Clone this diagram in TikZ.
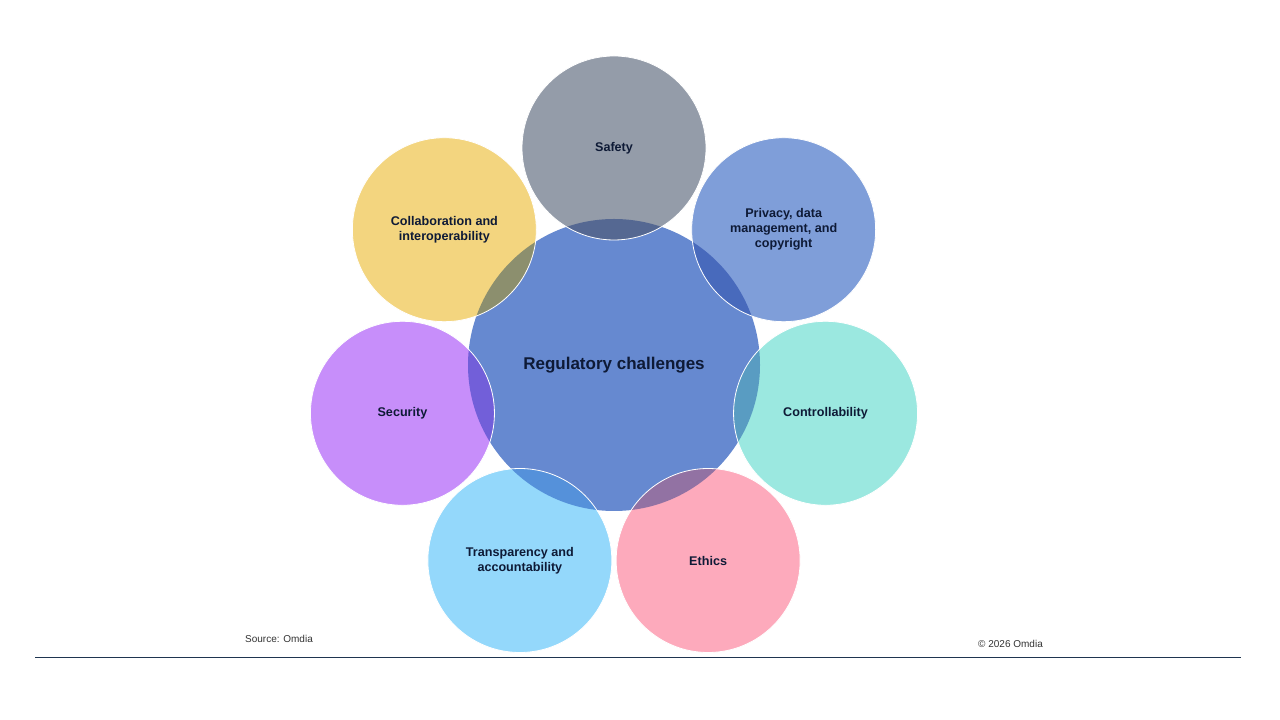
\documentclass[tikz,border=0pt]{standalone}
\usepackage{fontspec}
\setmainfont{Liberation Sans}
\usetikzlibrary{positioning,calc}
\definecolor{rcHub}{HTML}{6689D0}
\definecolor{rcSafety}{HTML}{949CA9}
\definecolor{rcPrivacy}{HTML}{7F9ED9}
\definecolor{rcControl}{HTML}{9BE8E0}
\definecolor{rcEthics}{HTML}{FDAABC}
\definecolor{rcTransp}{HTML}{94D8FB}
\definecolor{rcSecurity}{HTML}{C78EFA}
\definecolor{rcCollab}{HTML}{F3D57F}
\definecolor{rcText}{HTML}{0E1A36}
\definecolor{rcRule}{HTML}{1F3550}
\definecolor{rcMute}{HTML}{333333}
\tikzset{
  rcnode/.style={
    circle, inner sep=0pt, align=center, text=rcText,
    font=\fontsize{12.6}{15}\selectfont\bfseries
  },
  hub/.style={rcnode, fill=rcHub, minimum size=292pt,
    font=\fontsize{17}{20}\selectfont\bfseries},
  topic/.style={rcnode, minimum size=184pt},
  overlap/.style={fill=rcHub, blend mode=multiply, fill opacity=0.7},
  rim/.style={draw=white, line width=0.8pt},
  foot/.style={font=\fontsize{10}{12}\selectfont, text=rcMute, inner sep=0pt, anchor=west},
  footrule/.style={draw=rcRule, line width=1pt}
}
\begin{document}
\begin{tikzpicture}[x=1pt, y=1pt]
  \fill[white] (0,0) rectangle (1280,720);
  \node[hub] (hub) at (614,355) {Regulatory challenges};
  \foreach \n/\c/\t [count=\i from 0] in {
    safety/rcSafety/{Safety},
    privacy/rcPrivacy/{Privacy, data\\management, and\\copyright},
    control/rcControl/{Controllability},
    ethics/rcEthics/{Ethics},
    transp/rcTransp/{Transparency and\\accountability},
    security/rcSecurity/{Security},
    collab/rcCollab/{Collaboration and\\interoperability}}
    \node[topic, fill=\c] (\n) at ($(hub)+({90-\i*360/7}:217)$) {\t};
  % darker lens where each circle meets the hub
  \foreach \n in {safety,privacy,control,ethics,transp,security,collab}{
    \begin{scope}
      \clip (hub.center) circle[radius=146];
      \fill[overlap] (\n.center) circle[radius=92];
    \end{scope}
    \draw[rim] (\n.center) circle[radius=92];
  }
  \node[foot] (src) at (245,81) {Source: Omdia};
  \node[foot] (copy) at (978,76) {© 2026 Omdia};
  \coordinate (ruleL) at (35,62);
  \coordinate (ruleR) at (1241,62);
  \draw[footrule] (ruleL) -- (ruleR);
\end{tikzpicture}
\end{document}
